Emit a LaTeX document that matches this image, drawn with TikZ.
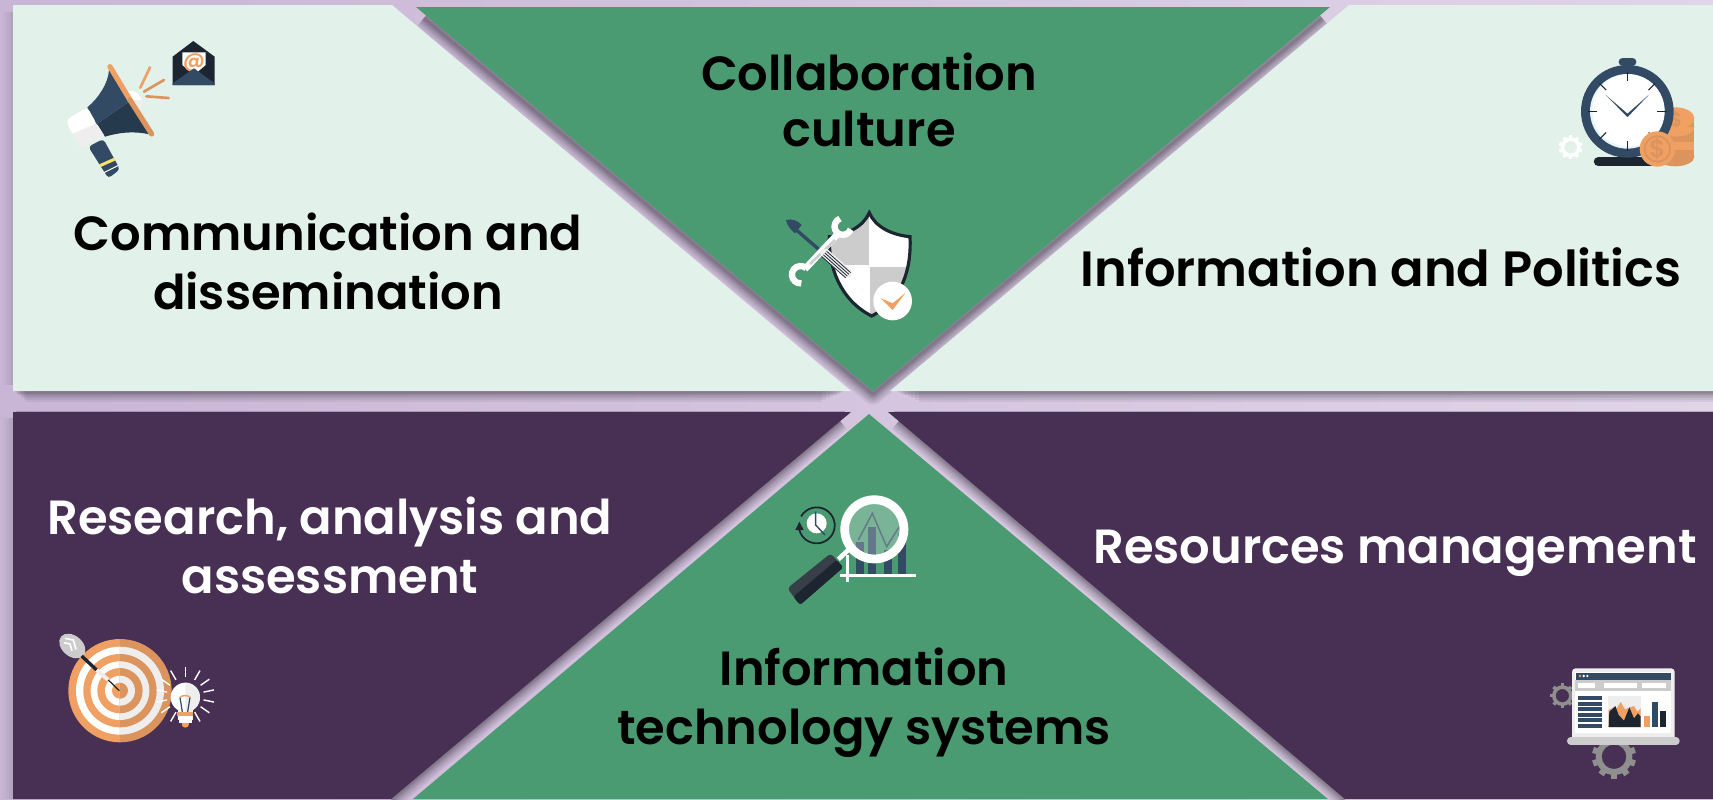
\documentclass[tikz,border=0pt]{standalone}
\usepackage{fontspec}
\setmainfont{Poppins}[BoldFont={Poppins SemiBold}]
\usetikzlibrary{positioning}
\definecolor{bgLeft}{HTML}{C9B5D5}
\definecolor{bgMid}{HTML}{DDD1E5}
\definecolor{bgRight}{HTML}{E0D4E8}
\definecolor{panelLight}{HTML}{E2F1EA}
\definecolor{panelDark}{HTML}{483054}
\definecolor{triGreen}{HTML}{4B9B72}
\definecolor{glowCol}{HTML}{3A3340}
\definecolor{iconBlue}{HTML}{324A63}
\definecolor{iconBlueDk}{HTML}{263A4E}
\definecolor{iconBlack}{HTML}{1C2530}
\definecolor{iconOrange}{HTML}{EFA062}
\definecolor{iconOrangeDk}{HTML}{DC945F}
\definecolor{iconLight}{HTML}{EEEEEE}
\definecolor{iconGrey}{HTML}{CCCCCC}
\definecolor{iconYellow}{HTML}{F7E36F}
\definecolor{iconPale}{HTML}{E6F6FA}
\tikzset{panelText/.style={align=center,font=\fontsize{27.3}{33.5}\selectfont\bfseries}}
\tikzset{iconZoom/.style 2 args={shift={(#1,#2)},scale=0.3333}}
\tikzset{softEdge/.style={color=glowCol, line cap=butt, line join=round}}
% stack of strokes, gives a blurred edge
\newcommand{\softGlow}[2]{\foreach \w in {1,2,3,4,5,6.5,8,10,12}{\draw[softEdge,line width=\w pt,opacity=#1]#2;}}
\newcommand{\gearIcon}[6]{
	\fill[#6,even odd rule](#1,#2) circle [radius=#3] (#1,#2) circle [radius=#4];
	\foreach \i in {1,...,#5}{\fill[#6,shift={(#1,#2)},rotate=\i*360/#5](-#3*0.17,#3*0.85) rectangle (#3*0.17,#3*1.2);}
}

\begin{document}
\begin{tikzpicture}[x=0.02cm,y=-0.02cm]
	\useasboundingbox (0,0) rectangle (1713,799);
	\shade[left color=bgLeft,middle color=bgMid,right color=bgRight](0,0) rectangle (1713,799);

	% shadows first, the panels cover the inner half
	\softGlow{0.08}{({14+\w},391)--({846-2*\w},391)}
	\softGlow{0.08}{({895+2*\w},391)--(1713,391)}
	\softGlow{0.08}{(424,18)--(873,394)--(1322,18)}
	\softGlow{0.08}{(840,421)--(391,799)}
	\softGlow{0.08}{(899,421)--(1345,799)}
	\softGlow{0.015}{(13,12)--(13,385)}
	\softGlow{0.015}{(13,418)--(13,799)}
	\draw[glowCol,line width=1.4pt,opacity=0.25](16,412)--(845,412);
	\draw[glowCol,line width=1.4pt,opacity=0.25](894,412)--(1713,412);

	% panels
	\fill[panelLight](13,5)--(392,5)--(851,391)--(13,391)--cycle;
	\fill[panelLight](1349,5)--(1713,5)--(1713,391)--(890,391)--cycle;
	\fill[panelDark](13,412)--(851,412)--(391,799)--(13,799)--cycle;
	\fill[panelDark](888,412)--(1713,412)--(1713,799)--(1345,799)--cycle;
	\fill[triGreen](416,7)--(1330,7)--(873,391)--cycle;
	\fill[triGreen](869,414)--(1328,799)--(413,799)--cycle;

	% labels
	\node[panelText,black] (commLabel) at (328,261) {Communication and\\dissemination};
	\node[panelText,black] (collabLabel) at (869,100) {Collaboration\\[-2pt]culture};
	\node[panelText,black,font=\fontsize{28.2}{33.5}\selectfont\bfseries] (politicsLabel) at (1381,267) {Information and Politics};
	\node[panelText,white] (researchLabel) at (330,545) {Research, analysis and\\assessment};
	\node[panelText,black] (itLabel) at (864,703) {Information\\technology systems};
	\node[panelText,white] (resourcesLabel) at (1395,553) {Resources management};

	% megaphone
	\begin{scope}[iconZoom={40}{20}]
		\fill[white](265,213) .. controls (285,208) and (305,225) .. (305,245) .. controls (305,258) and (298,268) .. (285,270)--cycle;
		\fill[iconLight](275,240)--(305,240) .. controls (305,258) and (298,268) .. (285,270)--cycle;
		\fill[iconBlue](207,150) .. controls (205,190) and (175,235) .. (142,262)--(170,312)--(268,245)--cycle;
		\fill[iconBlueDk](268,245)--(328,343) .. controls (280,332) and (235,338) .. (195,350)--(170,312)--cycle;
		\fill[white,rounded corners=2.5pt](142,262)--(78,300)--(97,345)--(170,312)--cycle;
		\fill[iconLight,rounded corners=1.2pt](97,342)--(120,384)--(195,350)--(170,310)--cycle;
		\fill[iconBlue,rounded corners=2pt](145,380)--(190,357)--(240,448)--(205,475)--cycle;
		\draw[iconYellow,line width=1.7pt](180,437)--(225,417);
		\draw[white,line width=0.6pt](192,458)--(236,436);
		\draw[iconOrange,line width=3pt,line cap=round](210,140)--(270,240);
		\draw[iconOrangeDk,line width=3pt,line cap=round](270,240)--(335,342);
		\draw[iconOrange,line width=1.5pt,line cap=round](301,203)--(330,142);
		\draw[iconOrangeDk,line width=1.5pt,line cap=round](312,215)--(372,180);
		\draw[iconOrangeDk,line width=1.5pt,line cap=round](319,229)--(386,234);
		\fill[iconBlack](398,110)--(460,63)--(524,110)--(524,195)--(398,195)--cycle;
		\fill[white](427,97)--(497,97)--(497,135)--(462,165)--(427,135)--cycle;
		\node[text=iconOrange,inner sep=0,font=\fontsize{12}{12}\selectfont\bfseries] (mailAt) at (462,127) {@};
		\fill[iconBlue](398,195)--(398,190)--(462,145)--(524,190)--(524,195)--cycle;
	\end{scope}

	% shield and tools
	\begin{scope}[iconZoom={760}{190}]
		\def\shieldOutline{(328,68) .. controls (345,110) and (395,135) .. (450,140) .. controls (455,230) and (430,330) .. (335,378) .. controls (240,330) and (205,230) .. (208,140) .. controls (260,135) and (310,110) .. (328,68)--cycle}
		\fill[white]\shieldOutline;
		\begin{scope}
			\clip\shieldOutline;
			\fill[iconGrey](190,60) rectangle (328,226);
			\fill[iconGrey](331,231) rectangle (460,390);
		\end{scope}
		\draw[iconBlack,line width=1.8pt]\shieldOutline;
		\draw[iconBlue,line width=1.9pt](100,112)--(190,190);
		\fill[iconBlue](78,90) .. controls (95,85) and (115,92) .. (125,105)--(105,130) .. controls (92,120) and (80,105) .. (78,90)--cycle;
		\draw[white,line width=3.8pt](135,237)--(235,130);
		\draw[white,line width=3.6pt](272,118) arc [start angle=20,end angle=250,radius=25];
		\draw[white,line width=3.6pt](124,280) arc [start angle=85,end angle=310,radius=26];
		\draw[iconGrey,line width=1.4pt](150,222)--(225,150);
		\draw[iconLight,line width=5.4pt,line cap=round](195,190)--(262,250);
		\foreach \d in {-10,-3,4,11}{\draw[iconBlack,line width=0.45pt,shift={(\d*0.7,\d*-0.75)}](192,192)--(264,256);}
		\fill[white](398,333) circle [radius=58];
		\fill[iconOrange](362,325)--(398,340)--(437,308)--(398,360)--cycle;
	\end{scope}

	% stopwatch and coins
	\begin{scope}[iconZoom={1540}{40}]
		\gearIcon{92}{322}{30}{19}{10}{white}
		\draw[iconBlack,line width=5.2pt,line cap=round](175,365)--(350,365);
		\fill[iconOrangeDk](349,235) rectangle (463,350);
		\fill[iconOrangeDk](406,350) ellipse [x radius=57,y radius=29];
		\fill[iconOrange](349,305) rectangle (463,330);
		\fill[iconOrange](406,262) ellipse [x radius=57,y radius=28];
		\fill[iconOrangeDk](349,235) rectangle (463,262);
		\fill[iconOrange](406,235) ellipse [x radius=57,y radius=33];
		\node[text=iconOrangeDk,inner sep=0,font=\fontsize{11}{11}\selectfont\bfseries] (coinBack) at (408,238) {\$};
		\draw[iconBlue,line width=4.6pt,line cap=round](248,65)--(277,65);
		\fill[iconBlue](262,214) circle [radius=139];
		\fill[iconPale](262,214) circle [radius=112];
		\fill[white](265,211) circle [radius=108];
		\foreach \a in {0,45,...,315}{\draw[iconBlack,line width=0.6pt,shift={(262,214)},rotate=\a](0,90)--(0,118);}
		\fill[iconBlue](197,165)--(266,224)--(262,231)--cycle;
		\fill[iconBlue](328,163)--(259,224)--(263,231)--cycle;
		\fill[iconOrange](352,327) circle [radius=53];
		\fill[iconOrangeDk](352,327) circle [radius=41];
		\fill[iconOrange](352,327) circle [radius=35];
		\node[text=iconOrangeDk,inner sep=0,font=\fontsize{14}{14}\selectfont\bfseries] (coinFront) at (352,328) {\$};
	\end{scope}

	% target, dart and bulb
	\begin{scope}[iconZoom={40}{620}]
		\begin{scope}
			\clip(60,40) rectangle (240,380);
			\foreach \r/\c in {155/iconOrange,132/white,110/iconOrange,88/white,68/iconOrange,45/white,24/iconOrange}{\fill[\c](240,212) circle [radius=\r];}
		\end{scope}
		\begin{scope}
			\clip(240,40) rectangle (420,380);
			\foreach \r/\c in {155/iconOrangeDk,132/iconLight,110/iconOrangeDk,88/iconLight,68/iconOrangeDk,45/iconLight,24/iconOrangeDk}{\fill[\c](240,212) circle [radius=\r];}
		\end{scope}
		\fill[iconGrey,rotate around={-40:(97,78)}](97,78) ellipse [x radius=44,y radius=31];
		\draw[white,line width=0.9pt](75,55)--(100,60)--(108,88);
		\draw[white,line width=0.9pt](72,68)--(90,72)--(96,92);
		\draw[iconBlack,line width=1.9pt](125,108)--(170,150);
		\draw[iconLight,line width=2.2pt](170,150)--(205,180);
		\draw[iconBlack,line width=0.7pt](205,180)--(238,212);
		\foreach \a in {90,60,35,12,-12,-35,-60,-120,-145,-168,168,145,120}{\draw[white,line width=0.8pt,shift={(436,228)},rotate=\a](56,0)--(88,0);}
		\fill[white](436,232) circle [radius=44];
		\fill[white](415,262) rectangle (436,300);
		\begin{scope}
			\clip(436,180) rectangle (490,300);
			\fill[iconLight](436,232) circle [radius=44];
			\fill[iconLight](436,262) rectangle (458,300);
		\end{scope}
		\fill[iconOrange](436,312) circle [radius=11];
		\fill[white](417,288) rectangle (456,310);
		\draw[iconBlue,line width=0.7pt](420,232)--(427,276);
		\draw[iconBlue,line width=0.7pt](450,232)--(443,276);
		\draw[iconOrange,line width=0.8pt](420,232) .. controls (425,225) and (445,225) .. (450,232);
		\fill[iconOrange](412,276) rectangle (459,288);
	\end{scope}

	% magnifier and chart
	\begin{scope}[iconZoom={770}{480}]
		\foreach \bx/\by in {258/185,294/140,342/210,385/160}{\fill[iconBlue](\bx,\by) rectangle (\bx+24,282);}
		\draw[white,line width=1.5pt](210,286)--(438,286);
		\draw[white,line width=1.5pt](233,225)--(233,305);
		\draw[iconBlue,line width=0.8pt](265,180)--(307,100)--(350,200)--(388,140);
		\fill[white,opacity=0.25](313,148) circle [radius=80];
		\fill[white,even odd rule](313,148) circle [radius=102] (313,148) circle [radius=76];
		\draw[white,line width=2.6pt](240,205)--(205,238);
		\fill[iconBlack!88!white,rounded corners=2pt](52,325)--(182,220)--(220,262)--(90,375)--cycle;
		\fill[iconBlack,rounded corners=1pt](70,350)--(200,240)--(220,262)--(90,375)--cycle;
		\fill[white](140,130) circle [radius=30];
		\draw[iconBlue,line width=0.8pt](137,95)--(137,135)--(165,165);
		\draw[iconBlack,line width=1pt](88,150) arc [start angle=165,end angle=-150,radius=54];
		\fill[iconBlack](76,150)--(88,125)--(101,150)--cycle;
	\end{scope}

	% laptop and gears
	\begin{scope}[iconZoom={1530}{650}]
		\gearIcon{97}{137}{31}{20}{8}{iconGrey!70!black}
		\gearIcon{252}{320}{55}{37}{10}{iconGrey!70!black}
		\fill[iconLight,rounded corners=2pt](126,55) rectangle (434,270);
		\fill[white](136,65) rectangle (424,250);
		\fill[iconBlue](138,68) rectangle (424,90);
		\fill[iconOrange](150,78) circle [radius=4];
		\fill[white](161,78) circle [radius=4];
		\fill[white](172,78) circle [radius=4];
		\fill[iconGrey](136,90) rectangle (424,122);
		\fill[white](143,98) rectangle (195,114);
		\fill[white](221,98) rectangle (321,114);
		\fill[white](336,98) rectangle (408,114);
		\foreach \ly in {138,156,171,189,204,222}{\fill[iconBlue](144,\ly) rectangle (216,\ly+12);}
		\fill[iconLight](234,138) rectangle (332,231);
		\fill[iconOrange](236,231)--(236,180)--(250,172)--(260,175)--(272,156)--(285,178)--(300,172)--(312,168)--(322,185)--(332,175)--(332,231)--cycle;
		\fill[iconBlack](236,231)--(238,185)--(246,178)--(256,168)--(266,195)--(282,212)--(298,172)--(312,205)--(324,190)--(332,200)--(332,231)--cycle;
		\fill[iconOrange](342,198) rectangle (360,231);
		\fill[iconBlue](366,156) rectangle (384,231);
		\fill[iconBlack](390,183) rectangle (408,231);
		\draw[iconGrey,line width=4.2pt,line cap=round](122,273)--(438,273);
	\end{scope}
\end{tikzpicture}
\end{document}
